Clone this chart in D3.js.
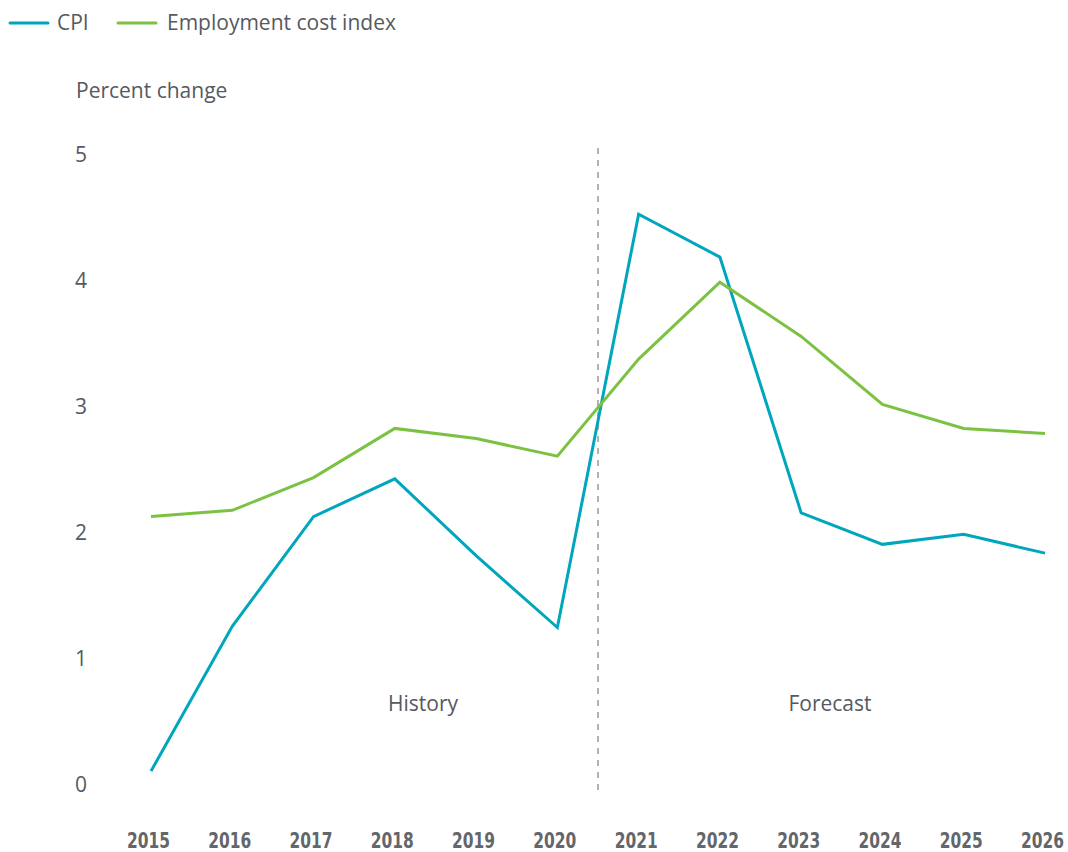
<!DOCTYPE html>
<html><head><meta charset="utf-8">
<script src="https://cdn.jsdelivr.net/npm/d3@7"></script>
<style>
body{margin:0;background:#fff;}
svg text{font-family:"Open Sans",sans-serif;fill:#56595f;}
.xt text{font-family:"Liberation Sans Narrow","DejaVu Sans Condensed","Open Sans",sans-serif;font-weight:bold;font-size:22px;fill:#63666a;}
</style></head>
<body>
<svg id="c" width="1068" height="852"></svg>
<script>
const years = [2015,2016,2017,2018,2019,2020,2021,2022,2023,2024,2025,2026];
const cpi = [0.11,1.26,2.13,2.43,1.82,1.25,4.53,4.19,2.16,1.91,1.99,1.84];
const eci = [2.13,2.18,2.44,2.83,2.75,2.61,3.38,3.99,3.56,3.02,2.83,2.79];
const yTicks = [0,1,2,3,4,5];
const seriesNames = ["CPI","Employment cost index"];
const colors = ["#00a6bc","#7cc242"];
const regionLabels = ["History","Forecast"];

const svg = d3.select("#c");
const x = d3.scaleLinear().domain([2015,2026]).range([151,1045]);
const y = d3.scaleLinear().domain([0,5]).range([785,155]);
const fs = 21;

// y ticks
svg.append("g").selectAll("text").data(yTicks).join("text")
  .attr("x",75).attr("y",d=>y(d)).attr("dy","0.35em")
  .attr("font-size",fs).text(d=>d);

svg.append("text").attr("x",76).attr("y",91).attr("dy","0.35em")
  .attr("font-size",fs).text("Percent change");

// x axis labels
const xg = svg.append("g").attr("class","xt").attr("transform","translate(-3,824)")
  .call(d3.axisBottom(x).tickValues(years).tickFormat(d3.format("d")).tickSize(0).tickPadding(0));
xg.select(".domain").remove();
xg.selectAll("text").attr("dy","0.35em").attr("y",16)
  .attr("textLength",43).attr("lengthAdjust","spacingAndGlyphs");

// divider
svg.append("line").attr("x1",x(2020.5)).attr("x2",x(2020.5)).attr("y1",148).attr("y2",790)
  .attr("stroke","#b3b3b3").attr("stroke-width",2).attr("stroke-dasharray","6,6");

svg.append("text").attr("x",423).attr("y",704).attr("dy","0.35em").attr("text-anchor","middle")
  .attr("font-size",fs).text(regionLabels[0]);
svg.append("text").attr("x",830).attr("y",704).attr("dy","0.35em").attr("text-anchor","middle")
  .attr("font-size",fs).text(regionLabels[1]);

const line = d3.line().x((d,i)=>x(years[i])).y(d=>y(d));
[cpi,eci].forEach((s,k)=>{
  svg.append("path").datum(s).attr("d",line).attr("fill","none")
    .attr("stroke",colors[k]).attr("stroke-width",3).attr("stroke-linejoin","miter");
});

// legend
const lg = [{x:10,tx:57},{x:118,tx:167}];
seriesNames.forEach((n,i)=>{
  svg.append("line").attr("x1",lg[i].x).attr("x2",lg[i].x+38).attr("y1",23).attr("y2",23)
    .attr("stroke",colors[i]).attr("stroke-width",3).attr("stroke-linecap","round");
  svg.append("text").attr("x",lg[i].tx).attr("y",23).attr("dy","0.35em").attr("font-size",fs).text(n);
});
</script>
</body></html>
